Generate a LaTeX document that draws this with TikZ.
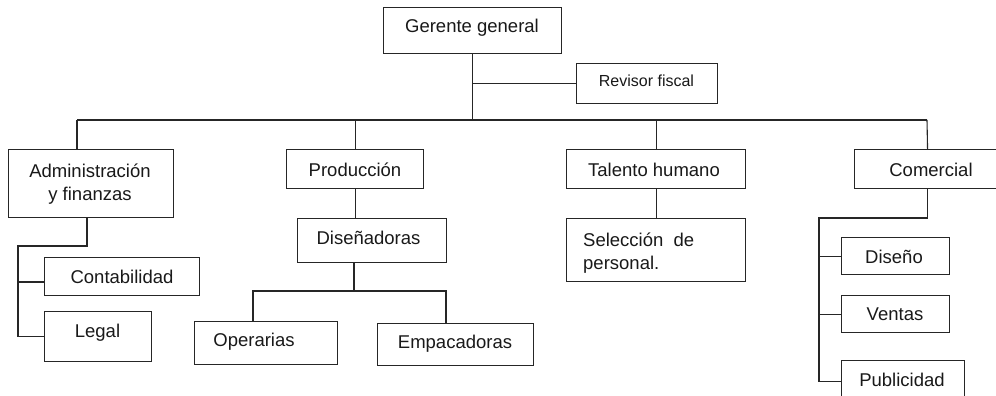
\documentclass[tikz,border=0pt]{standalone}
\usepackage{fontspec}
\setmainfont{Liberation Sans}
\begin{document}
\begin{tikzpicture}[x=1pt,y=-1pt,
  box/.style={draw=black!85, line width=1.1pt, anchor=north west, inner sep=0pt, fill=none},
  txt/.style={anchor=base, inner sep=0pt, font=\fontsize{18.5}{22}\selectfont, text=black!90},
  txtl/.style={anchor=base west, inner sep=0pt, font=\fontsize{18.5}{22}\selectfont, text=black!90},
  small/.style={anchor=base, inner sep=0pt, font=\fontsize{16}{19}\selectfont, text=black!90},
  conn/.style={draw=black!85, line width=1.1pt}]
\clip (0,0) rectangle (996,396);
\fill[white] (0,0) rectangle (996,396);
% boxes
\node[box, minimum width=178pt, minimum height=46pt] (gg) at (383,7) {};
\node[box, minimum width=141pt, minimum height=40pt] (rf) at (576,63) {};
\node[box, minimum width=165pt, minimum height=68pt] (adm) at (8,149) {};
\node[box, minimum width=137pt, minimum height=39pt] (prod) at (286,149) {};
\node[box, minimum width=179pt, minimum height=39pt] (th) at (566,149) {};
\node[box, minimum width=146pt, minimum height=39pt] (com) at (854,149) {};
\node[box, minimum width=155pt, minimum height=38pt] (cont) at (44,257) {};
\node[box, minimum width=107pt, minimum height=50pt] (leg) at (44,311) {};
\node[box, minimum width=149pt, minimum height=44pt] (dis) at (297,218) {};
\node[box, minimum width=143pt, minimum height=43pt] (ope) at (194,321) {};
\node[box, minimum width=156pt, minimum height=42pt] (emp) at (377,323) {};
\node[box, minimum width=179pt, minimum height=63pt] (sel) at (566,218) {};
\node[box, minimum width=108pt, minimum height=37pt] (dsn) at (841,237) {};
\node[box, minimum width=108pt, minimum height=37pt] (ven) at (841,295) {};
\node[box, minimum width=123pt, minimum height=42pt] (pub) at (841,360) {};
% texts
\node[txt] (tgg) at (472,33) {Gerente general};
\node[small] (trf) at (646.5,87) {Revisor fiscal};
\node[txt] (tadm1) at (90,177) {Administración};
\node[txt] (tadm2) at (90,200) {y finanzas};
\node[txt] (tprod) at (355,176) {Producción};
\node[txt] (tth) at (654,176) {Talento humano};
\node[txt] (tcom) at (931,176) {Comercial};
\node[txt] (tcont) at (122,283) {Contabilidad};
\node[txt] (tleg) at (97.5,337) {Legal};
\node[txt] (tdis) at (368.5,244) {Diseñadoras};
\node[txt] (tope) at (254,346) {Operarias};
\node[txt] (temp) at (455,348) {Empacadoras};
\node[txtl] (tsel1) at (583,246) {Selección\ \ de};
\node[txtl] (tsel2) at (583,269) {personal.};
\node[txt] (tdsn) at (894,263) {Diseño};
\node[txt] (tven) at (895,320) {Ventas};
\node[txt] (tpub) at (902,386) {Publicidad};
% junction coordinates
\coordinate (busL) at (77,120);
\coordinate (busR) at (927,120);
\coordinate (a1) at (87,246);
\coordinate (a2) at (18,246);
\coordinate (c1) at (18,282);
\coordinate (d0) at (354,291);
\coordinate (d1) at (253,291);
\coordinate (d2) at (446,291);
\coordinate (k1) at (819,218);
% connectors
\draw[conn] (gg.south) -- (gg.south |- busL);
\draw[conn] (gg.south |- rf.west) -- (rf.west);
\draw[conn] (busL) -- (busR);
\draw[conn] (busL) -- (busL |- adm.north);
\draw[conn] (prod.north |- busL) -- (prod.north);
\draw[conn] (th.north |- busL) -- (th.north);
\draw[conn] (busR) -- (com.north);
\draw[conn] (a1 |- adm.south) -- (a1) -- (a2) -- (a2 |- leg.west) -- (leg.west);
\draw[conn] (c1) -- (c1 -| cont.west);
\draw[conn] (prod.south) -- (prod.south |- dis.north);
\draw[conn] (d0 |- dis.south) -- (d0);
\draw[conn] (d1 |- ope.north) -- (d1) -- (d2) -- (d2 |- emp.north);
\draw[conn] (th.south) -- (th.south |- sel.north);
\draw[conn] (com.south) -- (com.south |- k1) -- (k1) -- (k1 |- pub.west) -- (pub.west);
\draw[conn] (k1 |- dsn.west) -- (dsn.west);
\draw[conn] (k1 |- ven.west) -- (ven.west);
\end{tikzpicture}
\end{document}
